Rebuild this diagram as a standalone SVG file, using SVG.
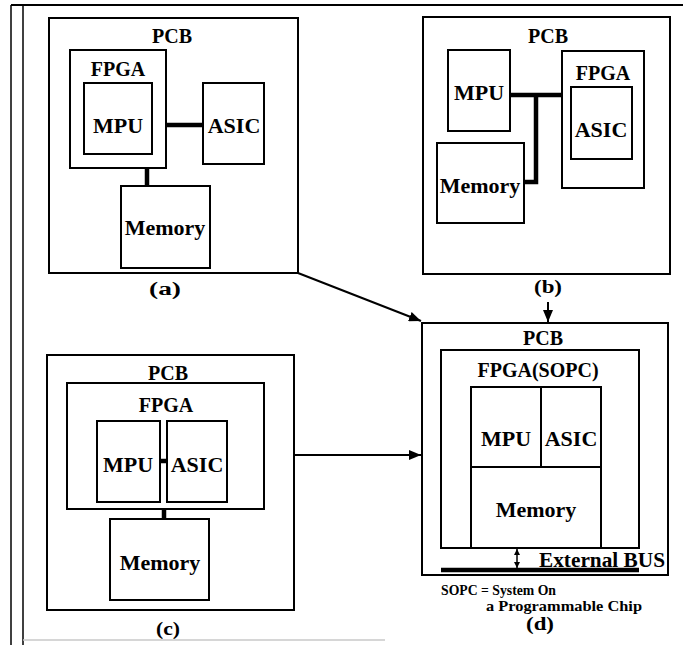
<svg xmlns="http://www.w3.org/2000/svg" width="683" height="645" viewBox="0 0 683 645">
  <style>
    .box { fill: none; stroke: #000; stroke-width: 2; }
    .bus { fill: none; stroke: #000; stroke-width: 4.5; }
    .wire { fill: none; stroke: #000; stroke-width: 2; }
    .hdr { font-family: "Liberation Serif", "Times New Roman", serif; font-weight: bold; font-size: 20px; text-anchor: middle; fill: #000; }
    .lbl { font-family: "Liberation Serif", "Times New Roman", serif; font-weight: bold; font-size: 22px; text-anchor: middle; fill: #000; }
    .cap { font-family: "Liberation Serif", "Times New Roman", serif; font-weight: bold; font-size: 18px; text-anchor: middle; fill: #000; }
    .note { font-family: "Liberation Serif", "Times New Roman", serif; font-weight: bold; font-size: 14px; fill: #000; }
  </style>
  <defs>
    <marker id="arrow" viewBox="0 0 12 10" refX="12" refY="5" markerWidth="12" markerHeight="10" markerUnits="userSpaceOnUse" orient="auto">
      <path d="M0,0 L12,5 L0,10 Z" fill="#000"/>
    </marker>
    <marker id="tip" viewBox="0 0 6 6" refX="6" refY="3" markerWidth="6" markerHeight="6" markerUnits="userSpaceOnUse" orient="auto-start-reverse">
      <path d="M0,0 L6,3 L0,6 Z" fill="#000"/>
    </marker>
  </defs>

  <rect width="683" height="645" fill="#fff"/>

  <!-- page frame -->
  <g id="frame">
    <line x1="11" y1="5" x2="683" y2="5" stroke="#000" stroke-width="2"/>
    <line x1="11" y1="5" x2="11" y2="645" stroke="#000" stroke-width="1.5"/>
    <line x1="23" y1="5" x2="23" y2="645" stroke="#000" stroke-width="1.5"/>
    <line x1="23" y1="640" x2="385" y2="640" stroke="#c8c8c8" stroke-width="1.5"/>
  </g>

  <!-- (a) FPGA holds the MPU; ASIC and memory sit on the board -->
  <g id="panel-a">
    <rect class="box" x="49" y="18" width="249" height="255"/>
    <text class="hdr" x="172" y="43">PCB</text>
    <rect class="box" x="70" y="50" width="96" height="118"/>
    <text class="hdr" x="118" y="76">FPGA</text>
    <rect class="box" x="84" y="83" width="68" height="71"/>
    <text class="lbl" x="118" y="133">MPU</text>
    <rect class="box" x="203" y="83" width="61" height="81"/>
    <text class="lbl" x="234" y="133">ASIC</text>
    <rect class="box" x="121" y="186" width="89" height="82"/>
    <text class="lbl" x="165" y="235">Memory</text>
    <line class="bus" x1="166" y1="125" x2="203" y2="125"/>
    <line class="bus" x1="147" y1="168" x2="147" y2="186"/>
    <text class="cap" x="165" y="295" textLength="32" lengthAdjust="spacingAndGlyphs">(a)</text>
  </g>

  <!-- (b) FPGA holds the ASIC; MPU and memory share one bus -->
  <g id="panel-b">
    <rect class="box" x="423" y="17" width="247" height="257"/>
    <text class="hdr" x="548" y="43">PCB</text>
    <rect class="box" x="448" y="50" width="62" height="81"/>
    <text class="lbl" x="479" y="100">MPU</text>
    <rect class="box" x="437" y="143" width="87" height="80"/>
    <text class="lbl" x="480" y="193">Memory</text>
    <rect class="box" x="562" y="51" width="82" height="137"/>
    <text class="hdr" x="603" y="80">FPGA</text>
    <rect class="box" x="571" y="87" width="61" height="72"/>
    <text class="lbl" x="601" y="137">ASIC</text>
    <polyline class="bus" points="510,95 562,95"/>
    <polyline class="bus" points="536,95 536,182 524,182"/>
    <text class="cap" x="548" y="293" textLength="28" lengthAdjust="spacingAndGlyphs">(b)</text>
  </g>

  <!-- (c) FPGA holds MPU and ASIC; memory on the board -->
  <g id="panel-c">
    <rect class="box" x="47" y="355" width="247" height="255"/>
    <text class="hdr" x="168" y="380">PCB</text>
    <rect class="box" x="67" y="383" width="197" height="126"/>
    <text class="hdr" x="166" y="412">FPGA</text>
    <rect class="box" x="97" y="421" width="63" height="81"/>
    <text class="lbl" x="128" y="472">MPU</text>
    <rect class="box" x="167" y="421" width="60" height="81"/>
    <text class="lbl" x="197" y="472">ASIC</text>
    <rect class="box" x="110" y="519" width="99" height="81"/>
    <text class="lbl" x="160" y="570">Memory</text>
    <line class="bus" x1="160" y1="461" x2="167" y2="461"/>
    <line class="bus" x1="164" y1="509" x2="164" y2="519"/>
    <text class="cap" x="168" y="635" textLength="24" lengthAdjust="spacingAndGlyphs">(c)</text>
  </g>

  <!-- (d) single-chip SOPC -->
  <g id="panel-d">
    <rect class="box" x="422" y="323" width="246" height="252"/>
    <text class="hdr" x="543" y="345">PCB</text>
    <rect class="box" x="441" y="350" width="198" height="198"/>
    <text class="hdr" x="538" y="377">FPGA(SOPC)</text>
    <rect class="box" x="471" y="387" width="130" height="161"/>
    <line class="wire" x1="541" y1="387" x2="541" y2="467"/>
    <line class="wire" x1="471" y1="467" x2="601" y2="467"/>
    <text class="lbl" x="506" y="446">MPU</text>
    <text class="lbl" x="571" y="446">ASIC</text>
    <text class="lbl" x="536" y="517">Memory</text>
    <line x1="517" y1="549" x2="517" y2="568" stroke="#000" stroke-width="1.5" marker-start="url(#tip)" marker-end="url(#tip)"/>
    <line class="bus" x1="441" y1="570" x2="639" y2="570"/>
    <text class="hdr" x="665" y="567" style="text-anchor:end" textLength="126" lengthAdjust="spacingAndGlyphs">External BUS</text>
    <text class="note" x="441" y="595" textLength="115" lengthAdjust="spacingAndGlyphs">SOPC = System On</text>
    <text class="note" x="486" y="611" textLength="156" lengthAdjust="spacingAndGlyphs">a Programmable Chip</text>
    <text class="cap" x="540" y="630" textLength="28" lengthAdjust="spacingAndGlyphs">(d)</text>
  </g>

  <!-- transitions into (d) -->
  <g id="connectors">
    <line class="wire" x1="298" y1="273" x2="421" y2="321" marker-end="url(#arrow)"/>
    <line class="wire" x1="548" y1="302" x2="548" y2="322" marker-end="url(#arrow)"/>
    <line class="wire" x1="294" y1="455" x2="421" y2="455" marker-end="url(#arrow)"/>
  </g>
</svg>
